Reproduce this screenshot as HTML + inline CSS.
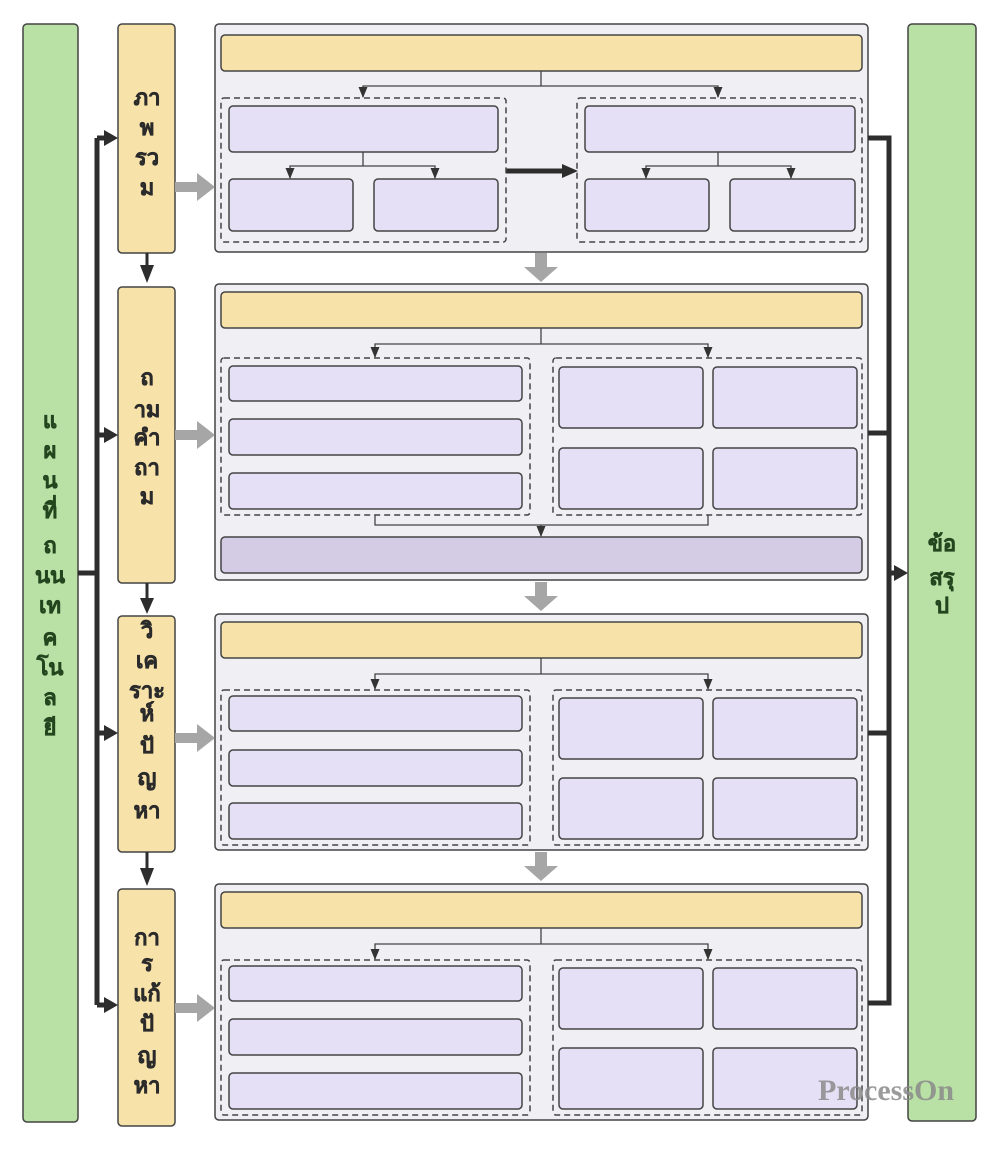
<!DOCTYPE html>
<html><head><meta charset="utf-8"><style>
body{margin:0;background:#fff;}
svg text{font-family:"Liberation Sans","Noto Sans CJK SC",sans-serif;font-weight:bold;}
</style></head><body>
<svg width="1000" height="1149" viewBox="0 0 1000 1149" xmlns="http://www.w3.org/2000/svg">
<defs>
<g id="bigR"><path d="M0,-5 L22,-5 L22,-14 L40,0 L22,14 L22,5 L0,5 Z" fill="#a6a6a6"/></g>
<g id="bigD"><path d="M-6,0 L6,0 L6,14 L17,14 L0,29 L-17,14 L-6,14 Z" fill="#a6a6a6"/></g>
<path id="t" d="M-4.5,-11 L4.5,-11 L0,0 Z" fill="#333"/>
</defs>
<g stroke="#444" stroke-width="1.5">
<rect x="23" y="24" width="55" height="1098" rx="4" fill="#b9e0a5"/>
<rect x="908" y="24" width="68" height="1097" rx="4" fill="#b9e0a5"/>
<rect x="118" y="24" width="57" height="229" rx="4" fill="#f7e2aa"/>
<rect x="118" y="287" width="57" height="296" rx="4" fill="#f7e2aa"/>
<rect x="118" y="616" width="57" height="236" rx="4" fill="#f7e2aa"/>
<rect x="118" y="889" width="57" height="237" rx="4" fill="#f7e2aa"/>
<rect x="215" y="24" width="653" height="228" rx="4" fill="#f0eff4"/>
<rect x="215" y="284" width="653" height="296" rx="4" fill="#f0eff4"/>
<rect x="215" y="614" width="653" height="236" rx="4" fill="#f0eff4"/>
<rect x="215" y="884" width="653" height="236" rx="4" fill="#f0eff4"/>
</g>
<g stroke="#2d2d2d" stroke-width="5" fill="none">
<path d="M78,573 H97 M97,138 V1005 M97,138 H108 M97,435 H108 M97,733 H108 M97,1005 H108"/>
<path d="M868,138 H889 V1003 H868 M868,433 H889 M868,733 H889 M889,573 H896"/>
<path d="M506,171 H565"/>
</g>
<g fill="#2d2d2d">
<path d="M104,130 L118,138 L104,146Z"/><path d="M104,427 L118,435 L104,443Z"/>
<path d="M104,725 L118,733 L104,741Z"/><path d="M104,997 L118,1005 L104,1013Z"/>
<path d="M894,565 L908,573 L894,581Z"/><path d="M562,164 L578,171 L562,178Z"/>
<path d="M140,265 L154,265 L147,283Z"/><path d="M140,598 L154,598 L147,614Z"/><path d="M140,868 L154,868 L147,886Z"/>
</g>
<g stroke="#2d2d2d" stroke-width="3"><path d="M147,253 V268 M147,583 V600 M147,852 V870"/></g>
<use href="#bigR" x="175" y="187"/><use href="#bigR" x="175" y="435"/><use href="#bigR" x="175" y="738"/><use href="#bigR" x="175" y="1008"/>
<use href="#bigD" x="541" y="253"/><use href="#bigD" x="541" y="582"/><use href="#bigD" x="541" y="852"/>
<g stroke="#444" stroke-width="1.5" fill="#e6e0f7">
<rect x="221" y="35" width="641" height="36" rx="4" fill="#f7e2aa"/>
<rect x="221" y="98" width="285" height="144" rx="3" fill="none" stroke-dasharray="6,4"/>
<rect x="577" y="98" width="285" height="144" rx="3" fill="none" stroke-dasharray="6,4"/>
<rect x="229" y="106" width="269" height="46" rx="4"/>
<rect x="229" y="179" width="124" height="52" rx="4"/><rect x="374" y="179" width="124" height="52" rx="4"/>
<rect x="585" y="106" width="270" height="46" rx="4"/>
<rect x="585" y="179" width="124" height="52" rx="4"/><rect x="730" y="179" width="125" height="52" rx="4"/>

<rect x="221" y="292" width="641" height="36" rx="4" fill="#f7e2aa"/>
<rect x="221" y="358" width="309" height="157" rx="3" fill="none" stroke-dasharray="6,4"/>
<rect x="553" y="358" width="309" height="157" rx="3" fill="none" stroke-dasharray="6,4"/>
<rect x="229" y="366" width="293" height="35" rx="4"/><rect x="229" y="419" width="293" height="36" rx="4"/><rect x="229" y="473" width="293" height="36" rx="4"/>
<rect x="559" y="367" width="144" height="61" rx="4"/><rect x="713" y="367" width="144" height="61" rx="4"/>
<rect x="559" y="448" width="144" height="61" rx="4"/><rect x="713" y="448" width="144" height="61" rx="4"/>
<rect x="221" y="537" width="641" height="36" rx="4" fill="#d4cbe5"/>

<rect x="221" y="622" width="641" height="36" rx="4" fill="#f7e2aa"/>
<rect x="221" y="690" width="309" height="155" rx="3" fill="none" stroke-dasharray="6,4"/>
<rect x="553" y="690" width="309" height="155" rx="3" fill="none" stroke-dasharray="6,4"/>
<rect x="229" y="696" width="293" height="35" rx="4"/><rect x="229" y="750" width="293" height="36" rx="4"/><rect x="229" y="803" width="293" height="36" rx="4"/>
<rect x="559" y="698" width="144" height="61" rx="4"/><rect x="713" y="698" width="144" height="61" rx="4"/>
<rect x="559" y="778" width="144" height="61" rx="4"/><rect x="713" y="778" width="144" height="61" rx="4"/>

<rect x="221" y="892" width="641" height="36" rx="4" fill="#f7e2aa"/>
<rect x="221" y="960" width="309" height="155" rx="3" fill="none" stroke-dasharray="6,4"/>
<rect x="553" y="960" width="309" height="155" rx="3" fill="none" stroke-dasharray="6,4"/>
<rect x="229" y="966" width="293" height="35" rx="4"/><rect x="229" y="1019" width="293" height="36" rx="4"/><rect x="229" y="1073" width="293" height="36" rx="4"/>
<rect x="559" y="968" width="144" height="61" rx="4"/><rect x="713" y="968" width="144" height="61" rx="4"/>
<rect x="559" y="1048" width="144" height="61" rx="4"/><rect x="713" y="1048" width="144" height="61" rx="4"/>
</g>
<g stroke="#444" stroke-width="1.3" fill="none">
<path d="M541,71 V86 M363,97 V86 H718 V97"/>
<path d="M363,152 V166 M290,178 V166 H435 V178"/>
<path d="M718,152 V166 M646,178 V166 H791 V178"/>
<path d="M541,328 V344 M375,357 V344 H708 V357"/>
<path d="M375,515 V525 H708 V515 M541,525 V536"/>
<path d="M541,658 V674 M375,689 V674 H708 V689"/>
<path d="M541,928 V944 M375,959 V944 H708 V959"/>
</g>
<g>
<use href="#t" x="363" y="98"/><use href="#t" x="718" y="98"/>
<use href="#t" x="290" y="179"/><use href="#t" x="435" y="179"/><use href="#t" x="646" y="179"/><use href="#t" x="791" y="179"/>
<use href="#t" x="375" y="358"/><use href="#t" x="708" y="358"/><use href="#t" x="541" y="537"/>
<use href="#t" x="375" y="690"/><use href="#t" x="708" y="690"/>
<use href="#t" x="375" y="960"/><use href="#t" x="708" y="960"/>
</g>
<g font-size="22" fill="#2b2b2b" text-anchor="middle" stroke="#2b2b2b" stroke-width="0.5">
<text x="147" y="105">ภา</text><text x="147" y="135">พ</text><text x="147" y="165">รว</text><text x="147" y="195">ม</text>
<text x="147" y="385">ถ</text><text x="147" y="417">าม</text><text x="147" y="445">คำ</text><text x="147" y="475">ถา</text><text x="147" y="504">ม</text>
<text x="147" y="638">วิ</text><text x="147" y="668">เค</text><text x="147" y="698">ราะ</text><text x="147" y="721">ห์</text><text x="147" y="753">ปั</text><text x="147" y="785">ญ</text><text x="147" y="818">หา</text>
<text x="147" y="945">กา</text><text x="147" y="971">ร</text><text x="147" y="1001">แก้</text><text x="147" y="1031">ปั</text><text x="147" y="1063">ญ</text><text x="147" y="1093">หา</text>
</g>
<g font-size="22" fill="#24461f" text-anchor="middle" stroke="#24461f" stroke-width="0.5">
<text x="50" y="428">แ</text><text x="50" y="458">ผ</text><text x="50" y="488">น</text><text x="50" y="518">ที่</text><text x="50" y="553">ถ</text><text x="50" y="583">นน</text><text x="50" y="613">เท</text><text x="50" y="645">ค</text><text x="50" y="675">โน</text><text x="50" y="705">ล</text><text x="50" y="735">ยี</text>
<text x="942" y="551">ข้อ</text><text x="942" y="585">สรุ</text><text x="942" y="613">ป</text>
</g>
<text x="886" y="1100" font-size="30" fill="#8a8a8a" fill-opacity="0.85" text-anchor="middle" style="font-family:'Liberation Serif',serif;font-weight:bold">ProcessOn</text>
</svg>
</body></html>
